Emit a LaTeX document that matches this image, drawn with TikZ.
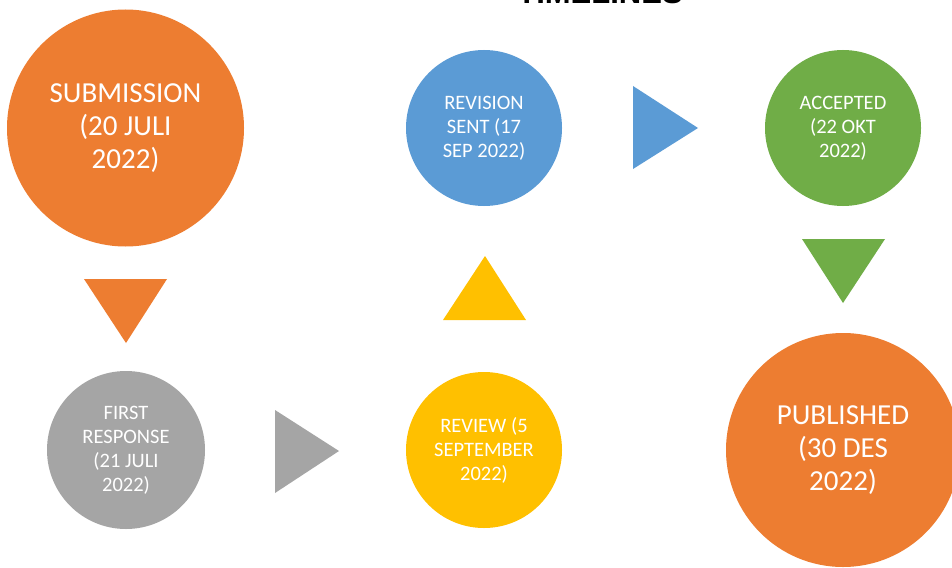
\documentclass[tikz,border=0pt]{standalone}
\usepackage{fontspec}
\setmainfont{Carlito}
\newfontfamily\titlefont{Liberation Sans}
\definecolor{cOrange}{HTML}{ED7D31}
\definecolor{cGray}{HTML}{A5A5A5}
\definecolor{cYellow}{HTML}{FFC000}
\definecolor{cBlue}{HTML}{5B9BD5}
\definecolor{cGreen}{HTML}{70AD47}
\tikzset{
  bigcirc/.style={circle, inner sep=0pt, minimum size=#1, text=white, align=center,
    font=\fontsize{29}{33}\selectfont},
  smallcirc/.style={circle, inner sep=0pt, minimum size=#1, text=white, align=center,
    font=\fontsize{20.5}{24}\selectfont},
}
\begin{document}
\begin{tikzpicture}[x=1pt,y=-1pt]
\useasboundingbox (0,0) rectangle (952,567);
\clip (0,0) rectangle (952,567);
\fill[white] (0,0) rectangle (952,567);
\node[anchor=base, font=\titlefont\bfseries\fontsize{31}{36}\selectfont] (title) at (600,4) {TIMELINES};

\node[bigcirc=237pt, fill=cOrange] (sub) at (125.5,128) {SUBMISSION\\(20 JULI\\2022)};
\node[smallcirc=158pt, fill=cGray] (first) at (126,450) {FIRST\\RESPONSE\\(21 JULI\\2022)};
\node[smallcirc=156pt, fill=cYellow] (rev) at (484,450) {REVIEW (5\\SEPTEMBER\\2022)};
\node[smallcirc=156pt, fill=cBlue] (revs) at (484,128) {REVISION\\SENT (17\\SEP 2022)};
\node[smallcirc=156pt, fill=cGreen] (acc) at (843,128) {ACCEPTED\\(22 OKT\\2022)};
\node[bigcirc=234pt, fill=cOrange] (pub) at (843,450) {PUBLISHED\\(30 DES\\2022)};

\fill[cOrange] (84,279) -- (167,279) -- (126,343) -- cycle;
\fill[cGray] (275,410) -- (275,493) -- (339,451) -- cycle;
\fill[cYellow] (443,320) -- (526,320) -- (485,256) -- cycle;
\fill[cBlue] (633,86) -- (633,169) -- (698,128) -- cycle;
\fill[cGreen] (802,239) -- (885,239) -- (843,303) -- cycle;
\end{tikzpicture}
\end{document}
